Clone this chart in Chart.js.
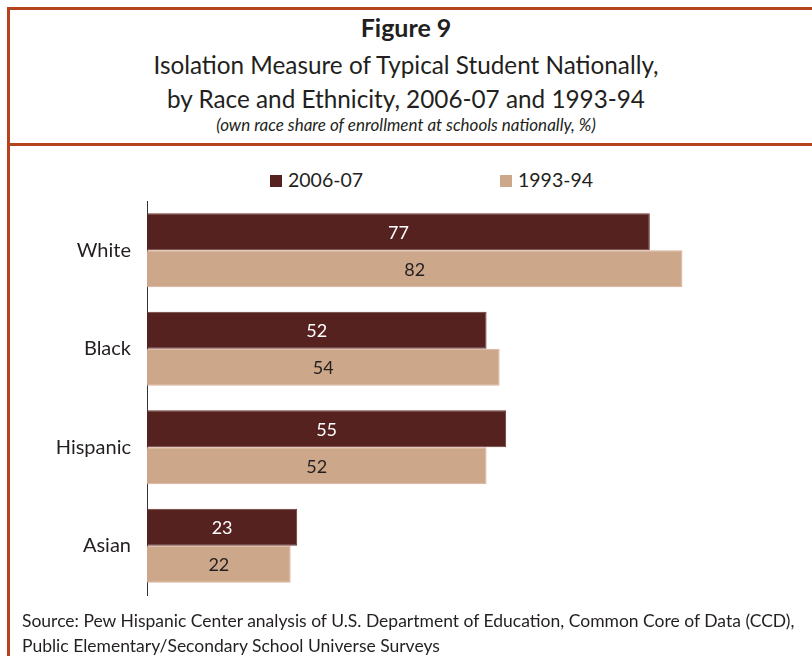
<!DOCTYPE html>
<html lang="en">
<head>
<meta charset="UTF-8">
<title>Figure 9</title>
<script src="https://cdn.jsdelivr.net/npm/chart.js@4.4.1/dist/chart.umd.min.js"></script>
<style>
  html, body { margin: 0; padding: 0; background: #fff; }
  body { width: 812px; height: 656px; position: relative; overflow: hidden; font-family: Lato, "Open Sans", sans-serif; color: #231f20; }
  .frame { position: absolute; left: 7px; top: 7px; width: 820px; height: 700px; border-left: 3px solid #b5441c; border-top: 3px solid #b5441c; }
  .sep { position: absolute; left: 7px; top: 143px; width: 810px; border-top: 3px solid #b5441c; }
  .title { position: absolute; left: 0; width: 812px; text-align: center; }
  .t1 { top: 12px; font-size: 25px; font-weight: bold; }
  .t2 { top: 50px; font-size: 24.3px; }
  .t3 { top: 84px; font-size: 24.3px; }
  .t4 { top: 114px; font-size: 17px; font-style: italic; }
  .legend { position: absolute; top: 168px; font-size: 19.5px; }
  .legend span.box { display: inline-block; width: 12px; height: 12px; margin-right: 6px; vertical-align: 0px; }
  .source { position: absolute; left: 22px; top: 608px; font-size: 17.5px; line-height: 25px; }
  #wrap { position: absolute; left: 8px; top: 146px; width: 804px; height: 477px; }
</style>
</head>
<body>
<div class="frame"></div>
<div class="sep"></div>
<div class="title t1">Figure 9</div>
<div class="title t2">Isolation Measure of Typical Student Nationally,</div>
<div class="title t3">by Race and Ethnicity, 2006-07 and 1993-94</div>
<div class="title t4">(own race share of enrollment at schools nationally, %)</div>
<div id="legend"></div>
<div id="wrap"><canvas id="chart"></canvas></div>
<div class="source">Source: Pew Hispanic Center analysis of U.S. Department of Education, Common Core of Data (CCD),<br>Public Elementary/Secondary School Universe Surveys</div>

<script>
const categories = ['White', 'Black', 'Hispanic', 'Asian'];
const seriesNames = ['2006-07', '1993-94'];
const values2006 = [77, 52, 55, 23];
const values1993 = [82, 54, 52, 22];
const seriesColors = ['#552220', '#cca789'];
const labelColors = ['#ffffff', '#231f20'];

// html legend, placed like the original
const legendX = [270, 500];
const legendEl = document.getElementById('legend');
seriesNames.forEach((name, i) => {
  const d = document.createElement('div');
  d.className = 'legend';
  d.style.left = legendX[i] + 'px';
  d.innerHTML = '<span class="box" style="background:' + seriesColors[i] + '"></span>' + name;
  legendEl.appendChild(d);
});

const valueLabels = {
  id: 'valueLabels',
  afterDatasetsDraw(chart) {
    const ctx = chart.ctx;
    ctx.save();
    ctx.font = '18px Lato, "Open Sans", sans-serif';
    ctx.textAlign = 'center';
    ctx.textBaseline = 'middle';
    chart.data.datasets.forEach((ds, i) => {
      chart.getDatasetMeta(i).data.forEach((bar, j) => {
        ctx.fillStyle = labelColors[i];
        ctx.fillText(ds.data[j], (bar.x + bar.base) / 2, bar.y + 1);
      });
    });
    ctx.restore();
  }
};

new Chart(document.getElementById('chart'), {
  type: 'bar',
  data: {
    labels: categories,
    datasets: [
      { label: seriesNames[0], data: values2006, backgroundColor: seriesColors[0], borderColor: '#6e3a30', borderWidth: 1 },
      { label: seriesNames[1], data: values1993, backgroundColor: seriesColors[1], borderColor: '#dcae9c', borderWidth: 1 }
    ]
  },
  options: {
    indexAxis: 'y',
    responsive: true,
    maintainAspectRatio: false,
    animation: false,
    layout: { padding: { top: 55, right: 12, bottom: 0, left: 0 } },
    datasets: { bar: { categoryPercentage: 0.75, barPercentage: 1.0 } },
    scales: {
      x: { display: false, min: 0, max: 100 },
      y: {
        afterFit(scale) { scale.width = 139; },
        grid: { display: false, drawTicks: false },
        border: { display: true, color: '#333', width: 1 },
        ticks: { color: '#231f20', padding: 16, font: { family: 'Lato, "Open Sans", sans-serif', size: 20 } }
      }
    },
    plugins: {
      legend: { display: false },
      tooltip: { enabled: false }
    }
  },
  plugins: [valueLabels]
});
</script>
</body>
</html>
